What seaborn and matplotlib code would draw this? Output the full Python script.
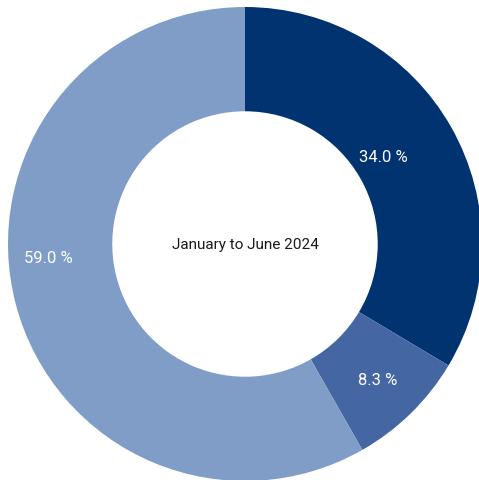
import matplotlib
matplotlib.use("Agg")
import numpy as np
import matplotlib.pyplot as plt
import seaborn as sns

shares = [34.0, 8.3, 59.0]
labels = ["34.0 %", "8.3 %", "59.0 %"]
colors = ["#00336f", "#4466a2", "#7f9dc6"]
center_text = "January to June 2024"

sns.set_theme(style="white")
plt.rcParams["font.family"] = ["Roboto", "DejaVu Sans"]

fig = plt.figure(figsize=(4.79, 4.81), dpi=100)
ax = fig.add_axes([0, 0, 1, 1])

wedges, _ = ax.pie(
    shares,
    colors=sns.color_palette(colors),
    startangle=90,
    counterclock=False,
    radius=1.0,
    wedgeprops=dict(width=0.44, linewidth=0),
)

# labels sit in the ring
label_r = [0.69, 0.80, 0.83]
label_ang = [32.5, None, 184]
for w, lab, r, a in zip(wedges, labels, label_r, label_ang):
    if a is None:
        a = (w.theta1 + w.theta2) / 2
    ang = np.deg2rad(a)
    ax.text(r * np.cos(ang), r * np.sin(ang), lab, ha="center", va="center",
            color="white", fontsize=12)

ax.text(0, 0, center_text, ha="center", va="center", color="#1a1a1a", fontsize=11)

ax.set_xlim(-245 / 237, 234 / 237)
ax.set_ylim(-236 / 237, 245 / 237)
ax.set_aspect("auto")
ax.axis("off")

fig.savefig("out.png", dpi=100, facecolor="white")
plt.close(fig)
